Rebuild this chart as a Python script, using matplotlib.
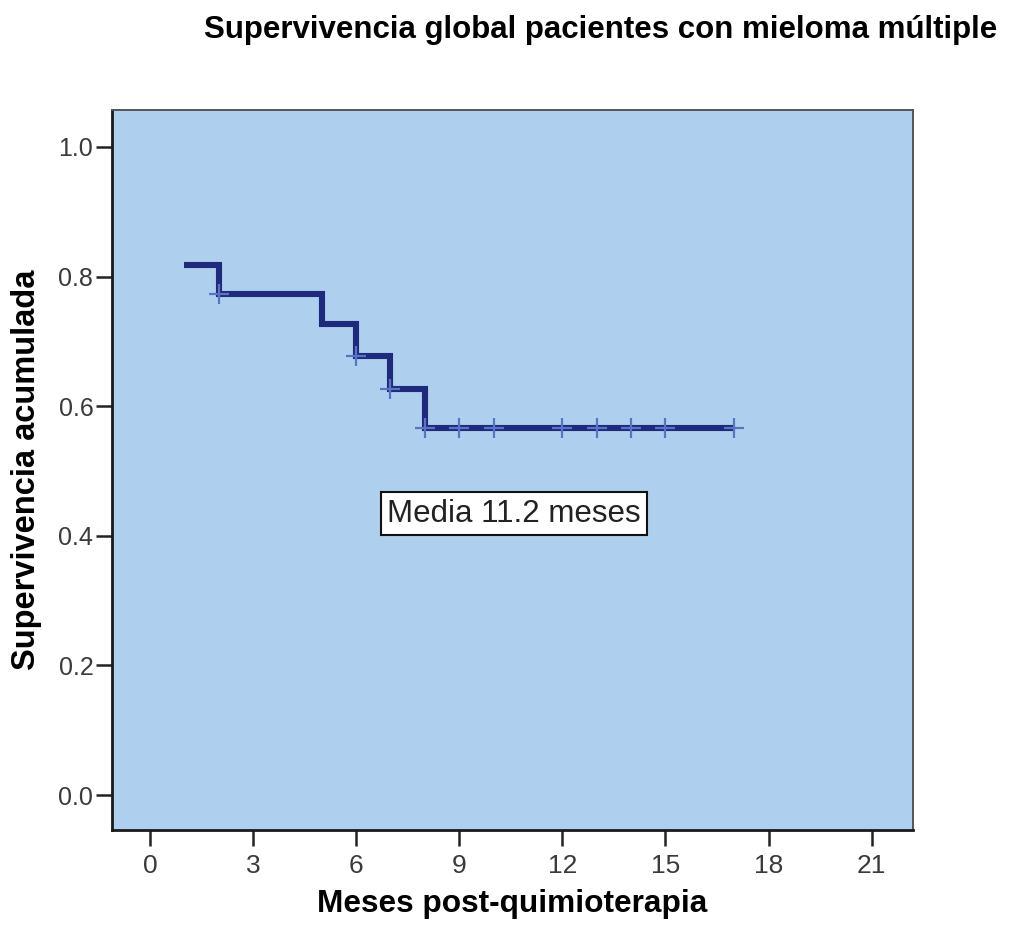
import matplotlib
matplotlib.use("Agg")
import matplotlib.pyplot as plt

# Data
step_times = [1, 2, 5, 6, 7, 8, 17]
step_surv = [0.818, 0.773, 0.727, 0.677, 0.627, 0.567, 0.567]
censor_times = [2, 6, 7, 8, 9, 10, 12, 13, 14, 15, 17]
censor_surv = [0.773, 0.677, 0.627, 0.567, 0.567, 0.567, 0.567, 0.567, 0.567, 0.567, 0.567]
x_ticks = [0, 3, 6, 9, 12, 15, 18, 21]
y_ticks = [0.0, 0.2, 0.4, 0.6, 0.8, 1.0]

title = "Supervivencia global pacientes con mieloma múltiple"
xlabel = "Meses post-quimioterapia"
ylabel = "Supervivencia acumulada"
annot = "Media 11.2 meses"

plt.rcParams['font.family'] = ['Liberation Sans', 'DejaVu Sans']

fig = plt.figure(figsize=(10.11, 9.40), dpi=100)
ax = fig.add_axes([112/1011, 1 - 830/940, (913-112)/1011, (830-110)/940])
ax.set_facecolor('#afcfee')

ax.step(step_times, step_surv, where='post', color='#1f2a7c', lw=4.4,
        solid_joinstyle='miter', solid_capstyle='butt', zorder=3)
ax.plot(censor_times, censor_surv, linestyle='none', marker='+', markersize=15,
        markeredgewidth=1.6, color='#5a74c4', zorder=4)

ax.set_xlim(-1.1, 22.2)
ax.set_ylim(-0.054, 1.057)
ax.set_xticks(x_ticks)
ax.set_yticks(y_ticks)
ax.set_xticklabels([str(t) for t in x_ticks])
ax.set_yticklabels([f"{t:.1f}" for t in y_ticks])
ax.tick_params(axis='both', direction='out', length=11.5, width=1.8, color='#222222',
               labelcolor='#3a3a3a')
ax.tick_params(axis='y', labelsize=18, pad=2)
ax.tick_params(axis='x', labelsize=19, pad=6)

for s in ['left', 'bottom']:
    ax.spines[s].set_linewidth(2.0)
    ax.spines[s].set_color('#1a1a1a')
for s in ['top', 'right']:
    ax.spines[s].set_linewidth(1.4)
    ax.spines[s].set_color('#555555')

ax.set_xlabel(xlabel, fontsize=22.8, fontweight='bold', labelpad=8)
ax.set_ylabel(ylabel, fontsize=23.5, fontweight='bold', labelpad=12)

fig.text(601/1011, 1 - 30/940, title, ha='center', va='center',
         fontsize=22.5, fontweight='bold')

ax.text(10.6, 0.434, annot, ha='center', va='center', fontsize=22.5, color='#222222',
        bbox=dict(boxstyle='square,pad=0.2', facecolor='white', edgecolor='#111111', lw=1.5),
        zorder=5)

fig.savefig('out.png', dpi=100)
